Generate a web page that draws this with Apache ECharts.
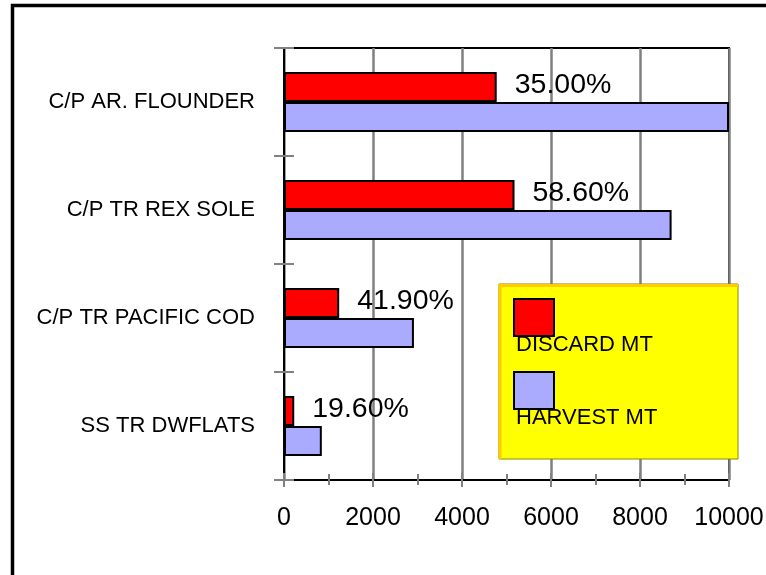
<!DOCTYPE html>
<html>
<head>
<meta charset="utf-8">
<style>
  html, body { margin: 0; padding: 0; background: #fff; }
  #chart { width: 766px; height: 575px; }
</style>
<script src="https://cdn.jsdelivr.net/npm/echarts@6/dist/echarts.min.js"></script>
</head>
<body>
<div id="chart"></div>
<script>
const categories = ['C/P AR. FLOUNDER', 'C/P TR REX SOLE', 'C/P TR PACIFIC COD', 'SS TR DWFLATS'];
const discardMT = [4780, 5180, 1240, 230];
const harvestMT = [10000, 8710, 2920, 850];
const discardPct = ['35.00%', '58.60%', '41.90%', '19.60%'];
const xTicks = [0, 2000, 4000, 6000, 8000, 10000];

const FONT = '"Liberation Sans", Arial, sans-serif';
const chart = echarts.init(document.getElementById('chart'), null, { renderer: 'canvas' });

const option = {
  backgroundColor: '#ffffff',
  animation: false,
  textStyle: { fontFamily: FONT, color: '#000' },
  grid: {
    left: 284, right: 37, top: 48, bottom: 95,
    containLabel: false,
    outerBoundsMode: 'none',
    show: true, borderColor: '#000', borderWidth: 2, backgroundColor: 'transparent'
  },
  xAxis: [{
    type: 'value',
    min: xTicks[0], max: xTicks[xTicks.length - 1], interval: 2000,
    position: 'bottom',
    axisLine: { show: true, lineStyle: { color: '#000', width: 2 } },
    axisTick: { show: true, length: 7, lineStyle: { color: '#808080', width: 2 } },
    minorTick: { show: true, splitNumber: 2, length: 5, lineStyle: { color: '#808080', width: 2 } },
    splitLine: { show: true, lineStyle: { color: '#808080', width: 2.5 } },
    axisLabel: { fontSize: 25, color: '#000', margin: 26, fontFamily: FONT, formatter: v => String(v) }
  }, {
    type: 'value',
    min: xTicks[0], max: xTicks[xTicks.length - 1], interval: 2000,
    position: 'bottom',
    axisLine: { show: false },
    axisTick: { show: true, inside: true, length: 7, lineStyle: { color: '#808080', width: 2 } },
    minorTick: { show: true, splitNumber: 2, length: 6, lineStyle: { color: '#808080', width: 2 } },
    splitLine: { show: false },
    axisLabel: { show: false }
  }],
  yAxis: [{
    type: 'category',
    data: categories,
    inverse: true,
    axisLine: { show: true, lineStyle: { color: '#000', width: 2 } },
    axisTick: { show: true, length: 10, lineStyle: { color: '#808080', width: 2 } },
    axisLabel: { fontSize: 22, color: '#000', margin: 29, fontFamily: FONT }
  }, {
    type: 'category',
    data: categories,
    inverse: true,
    position: 'left',
    axisLine: { show: false },
    axisTick: { show: true, inside: true, length: 10, lineStyle: { color: '#808080', width: 2 } },
    axisLabel: { show: false }
  }],
  legend: {
    z: 10,
    orient: 'vertical',
    left: 513, top: 262.5,
    padding: 0,
    itemWidth: 40, itemHeight: 37, itemGap: -37,
    icon: 'rect',
    selectedMode: false,
    formatter: name => '\n' + name,
    textStyle: { fontSize: 22, lineHeight: 55, color: '#000', fontFamily: FONT, padding: [0, 0, 0, -43] },
    data: ['DISCARD MT', 'HARVEST MT']
  },
  graphic: [
    { type: 'rect', z: 0, silent: true,
      shape: { x: 12.5, y: 5.5, width: 800, height: 620 },
      style: { fill: 'none', stroke: '#000', lineWidth: 3.5 } },
    { type: 'rect', z: 5, silent: true,
      shape: { x: 499, y: 284, width: 239, height: 175 },
      style: { fill: '#ffff00', stroke: '#8a8a00', lineWidth: 1 } },
    { type: 'polyline', z: 6, silent: true,
      shape: { points: [[500, 459], [500, 285.5], [738, 285.5]] },
      style: { fill: 'none', stroke: '#ffcc00', lineWidth: 3 } }
  ],
  series: [{
    name: 'DISCARD MT',
    type: 'bar',
    xAxisIndex: 0, yAxisIndex: 0,
    data: discardMT,
    barWidth: 30,
    barGap: '0%',
    itemStyle: { color: '#ff0000', borderColor: '#000', borderWidth: 2 },
    label: {
      show: true, position: 'right', distance: 18,
      offset: [0, -2],
      fontSize: 28.5, color: '#000', fontFamily: FONT,
      formatter: p => discardPct[p.dataIndex]
    },
    z: 3
  }, {
    name: 'HARVEST MT',
    type: 'bar',
    xAxisIndex: 0, yAxisIndex: 0,
    data: harvestMT,
    barWidth: 30,
    barGap: '0%',
    clip: false,
    itemStyle: { color: '#aaaaff', borderColor: '#000', borderWidth: 2 },
    z: 2
  }]
};
chart.setOption(option);
</script>
</body>
</html>
